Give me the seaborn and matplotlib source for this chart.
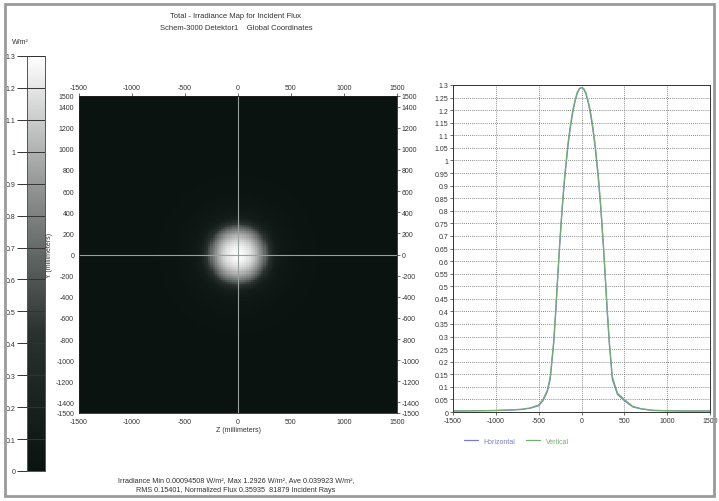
import numpy as np
import pandas as pd
import matplotlib
matplotlib.use("Agg")
import matplotlib.pyplot as plt
from matplotlib.colors import LinearSegmentedColormap
from matplotlib.patches import Rectangle
import seaborn as sns

sns.set_style("white")
plt.rcParams['font.family'] = ['Liberation Sans', 'DejaVu Sans']

# ---------------- data ----------------
title_lines = ["Total - Irradiance Map for Incident Flux",
               "Schem-3000 Detektor1    Global Coordinates"]
footer_lines = ["Irradiance Min 0.00094508 W/m\u00b2, Max 1.2926 W/m\u00b2, Ave 0.039923 W/m\u00b2,",
                "RMS 0.15401, Normalized Flux 0.35935  81879 Incident Rays"]

pos_h = [-1500, -1200, -1000, -800, -700, -600, -500, -450, -400, -365, -325, -300, -278, -255,
         -227, -196, -157, -130, -102, -75, -51, -25, 0, 25, 51, 75, 102, 130, 157, 196, 227, 255,
         278, 300, 325, 360, 420, 500, 600, 700, 830, 1000, 1200, 1500]
val_h = [0.004, 0.005, 0.006, 0.008, 0.010, 0.015, 0.025, 0.045, 0.08, 0.13, 0.27, 0.40, 0.53, 0.66,
         0.80, 0.93, 1.06, 1.13, 1.19, 1.235, 1.265, 1.285, 1.29, 1.285, 1.265, 1.235, 1.19, 1.13,
         1.06, 0.93, 0.80, 0.66, 0.53, 0.40, 0.27, 0.13, 0.07, 0.045, 0.02, 0.012, 0.006, 0.005,
         0.004, 0.004]
pos_v = [-1500, -1200, -1000, -800, -700, -600, -500, -450, -400, -365, -325, -300, -278, -255,
         -227, -196, -157, -130, -102, -75, -51, -25, 0, 25, 51, 75, 102, 130, 157, 196, 227, 255,
         278, 300, 325, 360, 420, 500, 600, 700, 830, 1000, 1200, 1500]
val_v = [0.004, 0.005, 0.006, 0.009, 0.011, 0.016, 0.028, 0.05, 0.085, 0.14, 0.28, 0.41, 0.54, 0.67,
         0.81, 0.94, 1.07, 1.14, 1.20, 1.24, 1.27, 1.286, 1.29, 1.286, 1.27, 1.24, 1.20, 1.14,
         1.07, 0.94, 0.81, 0.67, 0.54, 0.41, 0.28, 0.14, 0.075, 0.05, 0.022, 0.013, 0.007, 0.005,
         0.004, 0.004]
series_names = ["Horizontal", "Vertical"]
series_colors = ["#7b7bc4", "#74ad74"]

map_ticks_xy = [-1500, -1000, -500, 0, 500, 1000, 1500]
map_ticks_y = [1500, 1400, 1200, 1000, 800, 600, 400, 200, 0, -200, -400, -600, -800,
               -1000, -1200, -1400, -1500]
cbar_ticks = [0, 0.1, 0.2, 0.3, 0.4, 0.5, 0.6, 0.7, 0.8, 0.9, 1.0, 1.1, 1.2, 1.3]
prof_yticks = [round(0.05 * i, 2) for i in range(27)]

# ---------------- figure ----------------
W, H = 719, 502
fig = plt.figure(figsize=(W / 100, H / 100), dpi=100)

def axes_px(x0, y0, x1, y1):
    return fig.add_axes([x0 / W, 1 - y1 / H, (x1 - x0) / W, (y1 - y0) / H])

fig.patches.append(Rectangle((5 / W, 5 / H), (W - 10) / W, (H - 10) / H, transform=fig.transFigure,
                             fill=False, edgecolor="#9a9a9a", linewidth=2))

ax_cb = axes_px(27, 57, 45, 472)
ax_map = axes_px(79, 97, 397, 414)
ax_pr = axes_px(453, 86, 710, 413)

# irradiance map built radially from the profile data
N = 150
cell = 3000 / N
centers = -1500 + cell * (np.arange(N) + 0.5)
avg_pos = np.array(pos_h)
avg_val = (np.array(val_h) + np.array(val_v)) / 2
mask = avg_pos >= 0
XX, YY = np.meshgrid(centers, centers[::-1])
R = np.sqrt(XX ** 2 + YY ** 2)
Z = np.interp(R, avg_pos[mask], avg_val[mask])

cmap = LinearSegmentedColormap.from_list("irr", ["#0b1311", "#2a3230", "#8c8f8e", "#ffffff"],
                                         N=256)
sns.heatmap(Z, ax=ax_map, cmap=cmap, vmin=0, vmax=1.3, cbar_ax=ax_cb,
            xticklabels=False, yticklabels=False)

def xc(mm):
    return (mm + 1500) / cell

def yc(mm):
    return (1500 - mm) / cell

ax_map.axvline(xc(0), color="#9aa09e", lw=0.8)
ax_map.axhline(yc(0), color="#9aa09e", lw=0.8)
ax_map.set_xticks([xc(v) for v in map_ticks_xy])
ax_map.set_xticklabels([str(v) for v in map_ticks_xy])
ax_map.set_yticks([yc(v) for v in map_ticks_y])
ax_map.set_yticklabels([str(v) for v in map_ticks_y])
ax_map.tick_params(axis="both", which="both", labelsize=5, colors="#333333", length=2, width=0.5,
                   top=True, right=True, labeltop=True, labelright=True, pad=1.5)
for lab in ax_map.get_yticklabels():
    lab.set_rotation(0)
ax_map.set_xlabel("Z (millimeters)", fontsize=5, color="#333333", labelpad=1)
ax_map.set_ylabel("Y (millimeters)", fontsize=5, color="#333333", labelpad=2)
for s in ax_map.spines.values():
    s.set_visible(True)
    s.set_color("#222222")
    s.set_linewidth(0.6)

# colorbar styling
ax_cb.yaxis.set_ticks_position("left")
ax_cb.set_yticks(cbar_ticks)
ax_cb.set_yticklabels(["%g" % t for t in cbar_ticks])
ax_cb.tick_params(axis="y", direction="out", length=7.5, width=0.7, colors="#333333",
                  labelsize=5, pad=1, right=False, left=True)
for t in cbar_ticks:
    ax_cb.axhline(t, color="#333333", lw=0.7, zorder=5)
for s in ax_cb.spines.values():
    s.set_visible(True)
    s.set_color("#555555")
    s.set_linewidth(0.6)
fig.text(12 / W, 1 - 46 / H, "W/m\u00b2", fontsize=5, color="#333333", ha="left", va="bottom")

# profile plot
df = pd.concat([
    pd.DataFrame({"pos": pos_h, "val": val_h, "series": series_names[0]}),
    pd.DataFrame({"pos": pos_v, "val": val_v, "series": series_names[1]}),
])
sns.lineplot(data=df, x="pos", y="val", hue="series", palette=series_colors, ax=ax_pr,
             linewidth=0.9, sort=False, estimator=None)
ax_pr.set_xlim(-1500, 1500)
ax_pr.set_ylim(0, 1.3)
ax_pr.set_xticks(map_ticks_xy)
ax_pr.set_xticklabels([str(v) for v in map_ticks_xy])
ax_pr.set_yticks(prof_yticks)
ax_pr.set_yticklabels(["%g" % v for v in prof_yticks])
ax_pr.tick_params(labelsize=5, colors="#333333", length=2, width=0.5, pad=1.5, left=True, bottom=True)
ax_pr.grid(True, color="#666666", linestyle=(0, (1, 1.5)), linewidth=0.6)
ax_pr.set_xlabel("")
ax_pr.set_ylabel("")
for s in ax_pr.spines.values():
    s.set_visible(True)
    s.set_color("#333333")
    s.set_linewidth(0.7)
sns.move_legend(ax_pr, "upper left", bbox_to_anchor=(0.02, -0.06), ncol=2, frameon=False,
                title=None, fontsize=5, handlelength=2, columnspacing=1.5)
leg = ax_pr.get_legend()
for txt, c in zip(leg.get_texts(), series_colors):
    txt.set_color(c)

# titles and footer
fig.text(236 / W, 1 - 16 / H, title_lines[0], fontsize=5.5, color="#333333", ha="center", va="center")
fig.text(236 / W, 1 - 28 / H, title_lines[1], fontsize=5.5, color="#333333", ha="center", va="center")
fig.text(236 / W, 1 - 481 / H, footer_lines[0], fontsize=5.2, color="#333333", ha="center", va="center")
fig.text(236 / W, 1 - 491 / H, footer_lines[1], fontsize=5.2, color="#333333", ha="center", va="center")

fig.savefig("out.png", dpi=100)
